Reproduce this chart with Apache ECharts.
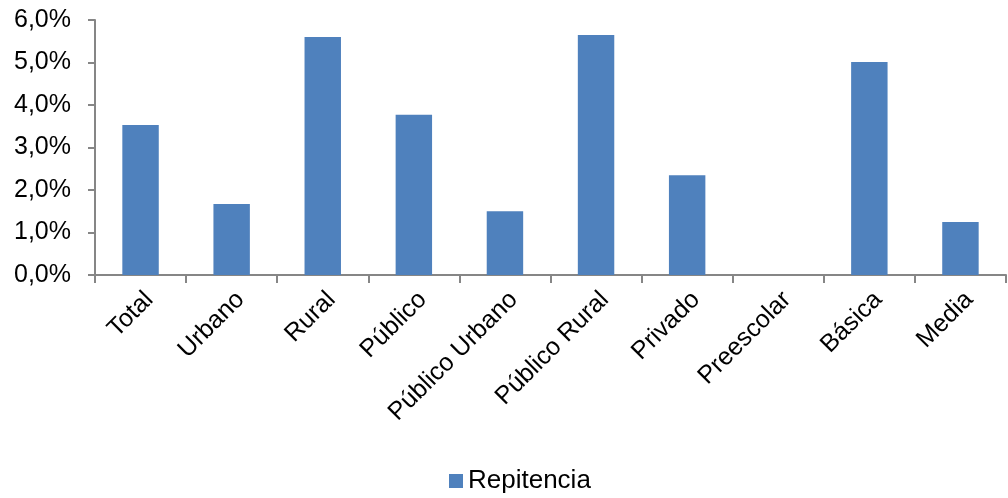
<!DOCTYPE html>
<html><head><meta charset="utf-8">
<script src="https://cdn.jsdelivr.net/npm/echarts@6/dist/echarts.min.js"></script>
<style>html,body{margin:0;padding:0;background:#fff}#c{width:1008px;height:498px}</style>
</head><body><div id="c"></div>
<script>
const categories = ['Total','Urbano','Rural','Público','Público Urbano','Público Rural','Privado','Preescolar','Básica','Media'];
const repitencia = [3.53, 1.67, 5.6, 3.77, 1.5, 5.65, 2.35, 0, 5.01, 1.25];
const seriesName = 'Repitencia';
const FONT = 'Liberation Sans, Arial, sans-serif';
const chart = echarts.init(document.getElementById('c'));
chart.setOption({
  animation:false,
  textStyle:{fontFamily:FONT},
  grid:{left:95,right:2,top:20,bottom:223,containLabel:false},
  legend:{top:468,left:449,padding:0,itemWidth:14,itemHeight:14,icon:'rect',itemGap:6,
    textStyle:{fontSize:26,color:'#000',fontFamily:FONT},data:[seriesName]},
  xAxis:{type:'category',data:categories,
    axisLine:{lineStyle:{color:'#868686',width:2}},
    axisTick:{show:true,length:8,lineStyle:{color:'#868686',width:2},alignWithLabel:false},
    axisLabel:{rotate:45,fontSize:25,color:'#000',margin:12,interval:0,verticalAlign:'top',fontFamily:FONT}},
  yAxis:{type:'value',min:0,max:6,interval:1,
    axisLine:{show:true,lineStyle:{color:'#868686',width:2}},
    axisTick:{show:true,length:7,lineStyle:{color:'#868686',width:2}},
    splitLine:{show:false},
    axisLabel:{fontSize:25,color:'#000',margin:24,formatter:v=>v.toFixed(1).replace('.',',')+'%',fontFamily:FONT}},
  series:[{name:seriesName,type:'bar',data:repitencia,barWidth:'40%',
    itemStyle:{color:'#4F81BD'}}]
});
</script></body></html>
